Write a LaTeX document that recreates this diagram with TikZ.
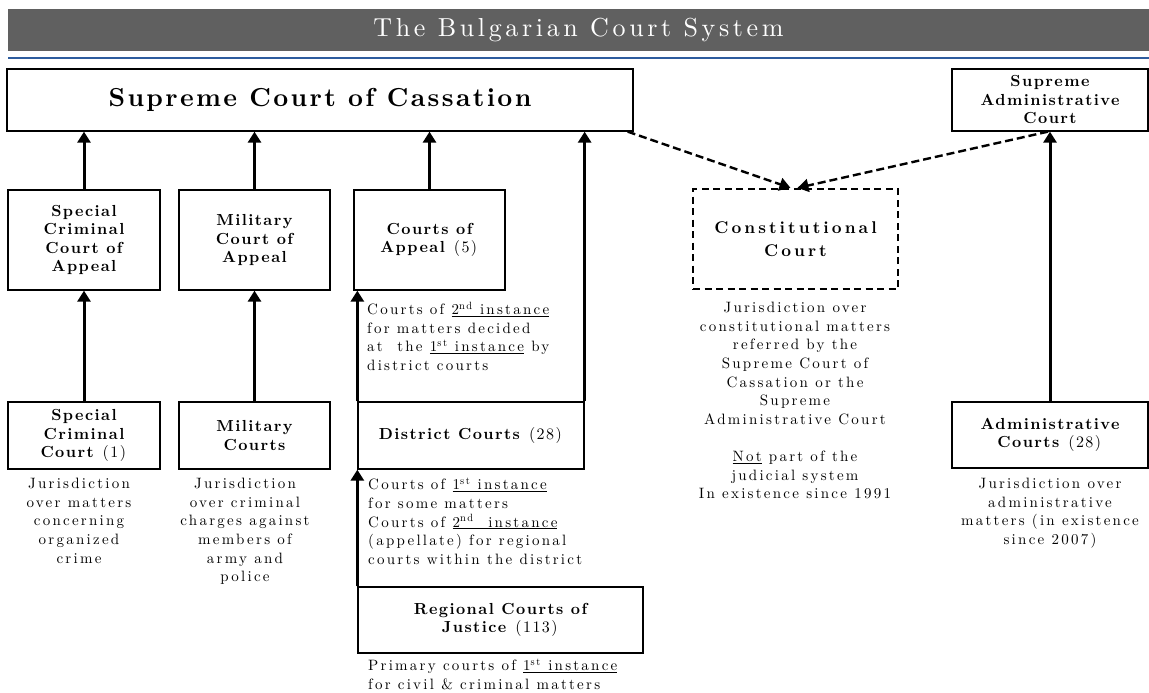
\documentclass[tikz,border=0pt]{standalone}
\usepackage{fontspec}
\usetikzlibrary{arrows.meta}
\newfontfamily\lblfam{lmroman10-regular.otf}[BoldFont=lmroman10-bold.otf, LetterSpace=9]
\newfontfamily\ccfam{lmroman10-regular.otf}[BoldFont=lmroman10-bold.otf, LetterSpace=18]
\newfontfamily\descfam{lmroman10-regular.otf}[LetterSpace=15]
\newfontfamily\titlefam{lmroman10-regular.otf}[LetterSpace=14]
\newfontfamily\bigfam{lmroman10-bold.otf}[LetterSpace=9]
\definecolor{headgray}{HTML}{606060}
\definecolor{lineblue}{HTML}{2E5C9E}
\begin{document}
\begin{tikzpicture}[x=1pt,y=-1pt,
  box/.style={draw, line width=1.3pt, inner sep=0pt},
  dashedbox/.style={draw, line width=2.2pt, dash pattern=on 7pt off 4.5pt},
  lbl/.style={font={\lblfam\bfseries\fontsize{16}{18.5}\selectfont}, align=center},
  cclbl/.style={font={\ccfam\bfseries\fontsize{17}{23}\selectfont}, align=center},
  desc/.style={font={\descfam\fontsize{15}{18.6}\selectfont}, align=center, inner sep=0pt, anchor=north},
  ldesc/.style={font={\descfam\fontsize{15}{18.6}\selectfont}, align=left, inner sep=0pt, anchor=north west},
  uparrow/.style={line width=3pt, -{Triangle[length=11pt,width=13pt]}},
  dasharrow/.style={line width=2.4pt, dash pattern=on 8pt off 4pt, -{Triangle[length=11pt,width=13pt]}}]
\useasboundingbox (0,0) rectangle (1149,693);
% header
\node[fill=headgray, text=white, minimum width=1141pt, minimum height=42pt, inner sep=0pt,
      font={\titlefam\fontsize{26}{30}\selectfont}] (title) at (578.5,30) {The Bulgarian Court System};
\coordinate (bl) at (8,58);
\coordinate (br) at (1149,58);
\draw[lineblue, line width=1.5pt] (bl) -- (br);
% top row
\node[box, minimum width=626pt, minimum height=62pt, font={\bigfam\fontsize{26}{30}\selectfont}] (sc) at (320,100) {Supreme Court of Cassation};
\node[box, lbl, minimum width=196pt, minimum height=62pt] (sac) at (1050,100) {Supreme\\Administrative\\Court};
% second row
\node[box, lbl, minimum width=152pt, minimum height=100pt] (scca) at (84,240) {Special\\Criminal\\Court of\\Appeal};
\node[box, lbl, minimum width=151pt, minimum height=100pt] (mca) at (254.5,240) {Military\\Court of\\Appeal};
\node[box, lbl, minimum width=151pt, minimum height=100pt] (ca) at (429.5,240) {Courts of\\Appeal \textmd{(5)}};
\node[dashedbox, cclbl, minimum width=205pt, minimum height=100pt, inner sep=0pt] (cc) at (795.5,239) {Constitutional\\Court};
% third row
\node[box, lbl, minimum width=152pt, minimum height=67pt] (scc) at (84,435.5) {Special\\Criminal\\Court \textmd{(1)}};
\node[box, lbl, minimum width=151pt, minimum height=67pt] (mc) at (254.5,435.5) {Military\\Courts};
\node[box, lbl, minimum width=226pt, minimum height=67pt] (dc) at (471,435.5) {District Courts \textmd{(28)}};
\node[box, lbl, minimum width=196pt, minimum height=66pt] (ac) at (1050,435) {Administrative\\Courts \textmd{(28)}};
\node[box, lbl, minimum width=285pt, minimum height=66pt] (rc) at (500.5,620) {Regional Courts of\\Justice \textmd{(113)}};
% arrows
\draw[uparrow] (scca.north) -- (scca.north |- sc.south);
\draw[uparrow] (mca.north) -- (mca.north |- sc.south);
\draw[uparrow] (ca.north) -- (ca.north |- sc.south);
\draw[uparrow] (dc.north east) -- (dc.north east |- sc.south);
\draw[uparrow] (dc.north west) -- (dc.north west |- ca.south);
\draw[uparrow] (rc.north west) -- (rc.north west |- dc.south);
\draw[uparrow] (scc.north) -- (scca.south);
\draw[uparrow] (mc.north) -- (mca.south);
\draw[uparrow] (ac.north) -- (sac.south);
\draw[dasharrow] ([xshift=-6pt]sc.south east) -- ([xshift=-5pt]cc.north);
\draw[dasharrow] ([xshift=-2pt]sac.south) -- ([xshift=2pt]cc.north);
% descriptions
\node[desc] (sccd) at (79,478) {Jurisdiction\\over matters\\concerning\\organized\\crime};
\node[desc] (mcd) at (245,478) {Jurisdiction\\over criminal\\charges against\\members of\\army and\\police};
\node[ldesc] (cad) at (367,302) {Courts of \underline{2\textsuperscript{nd} instance}\\for matters decided\\at\ \ the \underline{1\textsuperscript{st} instance} by\\district courts};
\node[ldesc] (dcd) at (368,478) {Courts of \underline{1\textsuperscript{st} instance}\\for some matters\\Courts of \underline{2\textsuperscript{nd}\ \ instance}\\(appellate) for regional\\courts within the district};
\node[ldesc] (rcd) at (368,659) {Primary courts of \underline{1\textsuperscript{st} instance}\\for civil \& criminal matters};
\node[desc] (ccd) at (795,302) {Jurisdiction over\\constitutional matters\\referred by the\\Supreme Court of\\Cassation or the\\Supreme\\Administrative Court\\[18.6pt]\underline{Not} part of the\\judicial system\\In existence since 1991};
\node[desc] (acd) at (1050,478) {Jurisdiction over\\administrative\\matters (in existence\\since 2007)};
\end{tikzpicture}
\end{document}
